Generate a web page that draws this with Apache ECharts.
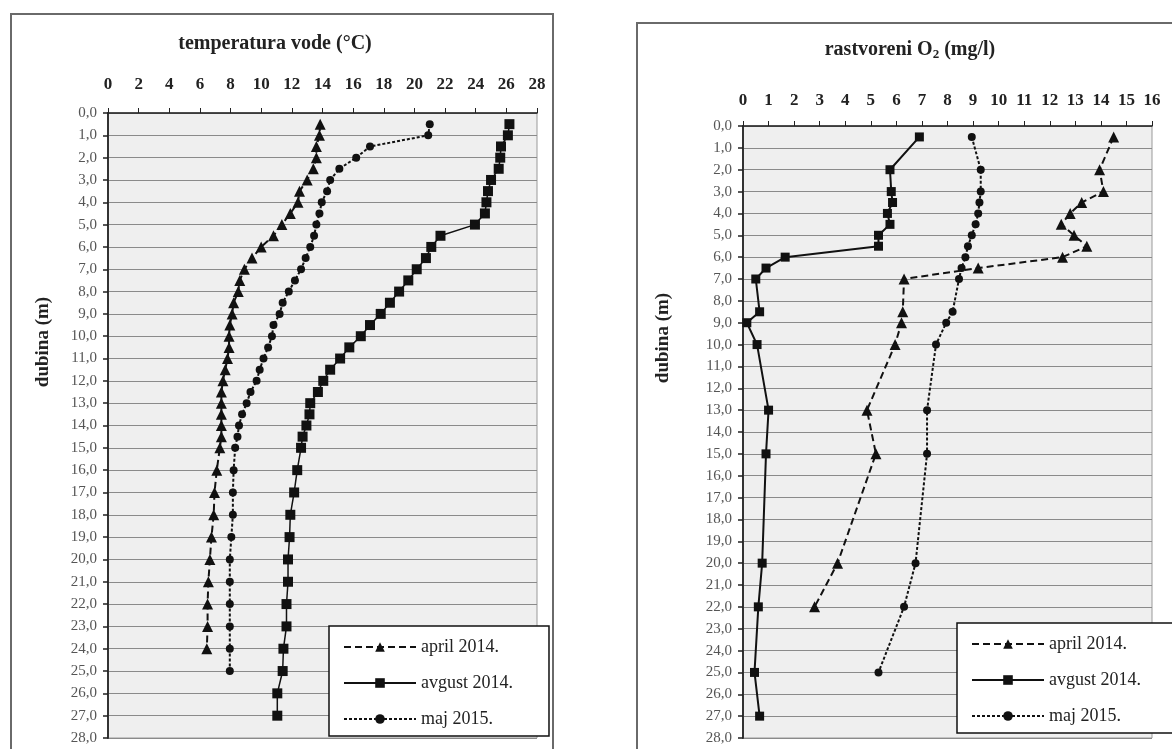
<!DOCTYPE html>
<html>
<head>
<meta charset="utf-8">
<script src="https://cdn.jsdelivr.net/npm/echarts@6/dist/echarts.min.js"></script>
<style>
  html, body { margin: 0; padding: 0; background: #fff; }
  #main { width: 1172px; height: 749px; }
</style>
</head>
<body>
<div id="main"></div>
<script>
// temperatura vode - dubina (m)
var tDepthApril = [0.5,1,1.5,2,2.5,3,3.5,4,4.5,5,5.5,6,6.5,7,7.5,8,8.5,9,9.5,10,10.5,11,11.5,12,12.5,13,13.5,14,14.5,15,16,17,18,19,20,21,22,23,24];
var tApril = [13.85,13.8,13.6,13.6,13.4,13.0,12.5,12.4,11.9,11.35,10.8,10.0,9.4,8.9,8.6,8.5,8.2,8.1,7.95,7.9,7.9,7.8,7.65,7.5,7.4,7.4,7.4,7.4,7.4,7.3,7.1,6.95,6.9,6.75,6.65,6.55,6.5,6.5,6.45];

var tDepthAvgust = [0.5,1,1.5,2,2.5,3,3.5,4,4.5,5,5.5,6,6.5,7,7.5,8,8.5,9,9.5,10,10.5,11,11.5,12,12.5,13,13.5,14,14.5,15,16,17,18,19,20,21,22,23,24,25,26,27];
var tAvgust = [26.2,26.1,25.65,25.6,25.5,25.0,24.8,24.7,24.6,23.95,21.7,21.1,20.75,20.15,19.6,19.0,18.4,17.8,17.1,16.5,15.75,15.15,14.5,14.05,13.7,13.2,13.15,12.95,12.7,12.6,12.35,12.15,11.9,11.85,11.75,11.75,11.65,11.65,11.45,11.4,11.05,11.05];

var tDepthMaj = [0.5,1,1.5,2,2.5,3,3.5,4,4.5,5,5.5,6,6.5,7,7.5,8,8.5,9,9.5,10,10.5,11,11.5,12,12.5,13,13.5,14,14.5,15,16,17,18,19,20,21,22,23,24,25];
var tMaj = [21.0,20.9,17.1,16.2,15.1,14.5,14.3,13.95,13.8,13.6,13.45,13.2,12.9,12.6,12.2,11.8,11.4,11.2,10.8,10.7,10.45,10.15,9.9,9.7,9.3,9.05,8.75,8.55,8.45,8.3,8.2,8.15,8.15,8.05,7.95,7.95,7.95,7.95,7.95,7.95];

// rastvoreni O2 - dubina (m)
var oDepthApril = [0.5,2,3,3.5,4,4.5,5,5.5,6,6.5,7,8.5,9,10,13,15,20,22];
var oApril = [14.5,13.95,14.1,13.25,12.8,12.45,12.95,13.45,12.5,9.2,6.3,6.25,6.2,5.95,4.85,5.2,3.7,2.8];

var oDepthAvgust = [0.5,2,3,3.5,4,4.5,5,5.5,6,6.5,7,8.5,9,10,13,15,20,22,25,27];
var oAvgust = [6.9,5.75,5.8,5.85,5.65,5.75,5.3,5.3,1.65,0.9,0.5,0.65,0.15,0.55,1.0,0.9,0.75,0.6,0.45,0.65];

var oDepthMaj = [0.5,2,3,3.5,4,4.5,5,5.5,6,6.5,7,8.5,9,10,13,15,20,22,25];
var oMaj = [8.95,9.3,9.3,9.25,9.2,9.1,8.95,8.8,8.7,8.55,8.45,8.2,7.95,7.55,7.2,7.2,6.75,6.3,5.3];

var names = ['april 2014.', 'avgust 2014.', 'maj 2015.'];

var serif = '"Liberation Serif", "DejaVu Serif", serif';

function pairs(vals, depths) {
  var out = [];
  for (var i = 0; i < vals.length; i++) {
    out.push([vals[i], depths[i]]);
  }
  return out;
}

function depthLabel(v) {
  return v.toFixed(1).replace('.', ',');
}

function makeX(idx, max, margin) {
  return {
    type: 'value',
    gridIndex: idx,
    position: 'top',
    min: 0,
    max: max,
    interval: idx === 0 ? 2 : 1,
    axisLine: { show: true, lineStyle: { color: '#222', width: 1.5 } },
    axisTick: { show: true, inside: false, length: 5, lineStyle: { color: '#222' } },
    axisLabel: { fontFamily: serif, fontWeight: 'bold', fontSize: 17, color: '#222', margin: margin },
    splitLine: { show: false }
  };
}

function makeY(idx) {
  return {
    type: 'value',
    gridIndex: idx,
    inverse: true,
    min: 0,
    max: 28,
    interval: 1,
    axisLine: { show: true, lineStyle: { color: '#333', width: 2 } },
    axisTick: { show: true, inside: false, length: 5, lineStyle: { color: '#222', width: 1.5 } },
    axisLabel: { fontFamily: serif, fontSize: 15, color: '#555', margin: 11, formatter: depthLabel },
    splitLine: { show: true, lineStyle: { color: '#8a8a8a', width: 1 } }
  };
}

function line(name, idx, data, type, symbol, size, width) {
  return {
    name: name,
    type: 'line',
    xAxisIndex: idx,
    yAxisIndex: idx,
    data: data,
    symbol: symbol,
    symbolSize: size,
    color: '#111',
    itemStyle: { color: '#111' },
    lineStyle: { color: '#111', width: width, type: type },
    animation: false
  };
}

var legendBase = {
  orient: 'vertical',
  itemWidth: 72,
  itemHeight: 12,
  itemGap: 18,
  height: 110,
  backgroundColor: '#fff',
  borderColor: '#111',
  borderWidth: 1.5,
  borderRadius: 0,
  textStyle: { fontFamily: serif, fontSize: 18, color: '#222' },
  selectedMode: false,
  data: names
};

var option = {
  backgroundColor: '#fff',
  animation: false,
  title: [{
    text: 'temperatura vode (°C)',
    left: 270,
    top: 29,
    textAlign: 'center',
    textStyle: { fontFamily: serif, fontWeight: 'bold', fontSize: 20, color: '#222' }
  }, {
    text: 'rastvoreni O{sub|2} (mg/l)',
    left: 905,
    top: 33,
    textAlign: 'center',
    textStyle: {
      fontFamily: serif, fontWeight: 'bold', fontSize: 20, color: '#222',
      rich: { sub: { fontFamily: serif, fontWeight: 'bold', fontSize: 13, color: '#222', padding: [10, 0, 0, 0] } }
    }
  }],
  graphic: [{
    type: 'rect',
    shape: { x: 11, y: 14, width: 542, height: 760 },
    style: { fill: null, stroke: '#6a6a6a', lineWidth: 2 },
    z: 0
  }, {
    type: 'rect',
    shape: { x: 637, y: 23, width: 600, height: 760 },
    style: { fill: null, stroke: '#6a6a6a', lineWidth: 2 },
    z: 0
  }, {
    type: 'text',
    x: 43, y: 342,
    rotation: Math.PI / 2,
    style: { text: 'dubina (m)', fontFamily: serif, fontWeight: 'bold', fontSize: 19, fill: '#222', align: 'center', verticalAlign: 'middle' }
  }, {
    type: 'text',
    x: 663, y: 338,
    rotation: Math.PI / 2,
    style: { text: 'dubina (m)', fontFamily: serif, fontWeight: 'bold', fontSize: 19, fill: '#222', align: 'center', verticalAlign: 'middle' }
  }],
  grid: [{
    left: 108, top: 113, width: 429, height: 625,
    show: true, backgroundColor: '#efefef', borderColor: '#999', borderWidth: 1
  }, {
    left: 743, top: 126, width: 409, height: 612,
    show: true, backgroundColor: '#efefef', borderColor: '#999', borderWidth: 1
  }],
  xAxis: [makeX(0, 28, 20), makeX(1, 16, 17)],
  yAxis: [makeY(0), makeY(1)],
  legend: [
    Object.assign({}, legendBase, { left: 329, top: 626, padding: [12, 36, 8, 14] }),
    Object.assign({}, legendBase, { left: 957, top: 623, padding: [12, 40, 8, 14] })
  ],
  series: [
    line(names[0], 0, pairs(tApril, tDepthApril), [7, 4], 'triangle', 11, 2),
    line(names[1], 0, pairs(tAvgust, tDepthAvgust), 'solid', 'rect', 10, 1.5),
    line(names[2], 0, pairs(tMaj, tDepthMaj), [3, 2], 'circle', 8, 2),
    line(names[0], 1, pairs(oApril, oDepthApril), [7, 4], 'triangle', 11, 2),
    line(names[1], 1, pairs(oAvgust, oDepthAvgust), 'solid', 'rect', 9, 2),
    line(names[2], 1, pairs(oMaj, oDepthMaj), [3, 2], 'circle', 8, 2)
  ]
};

var myChart = echarts.init(document.getElementById('main'));
myChart.setOption(option);
</script>
</body>
</html>
